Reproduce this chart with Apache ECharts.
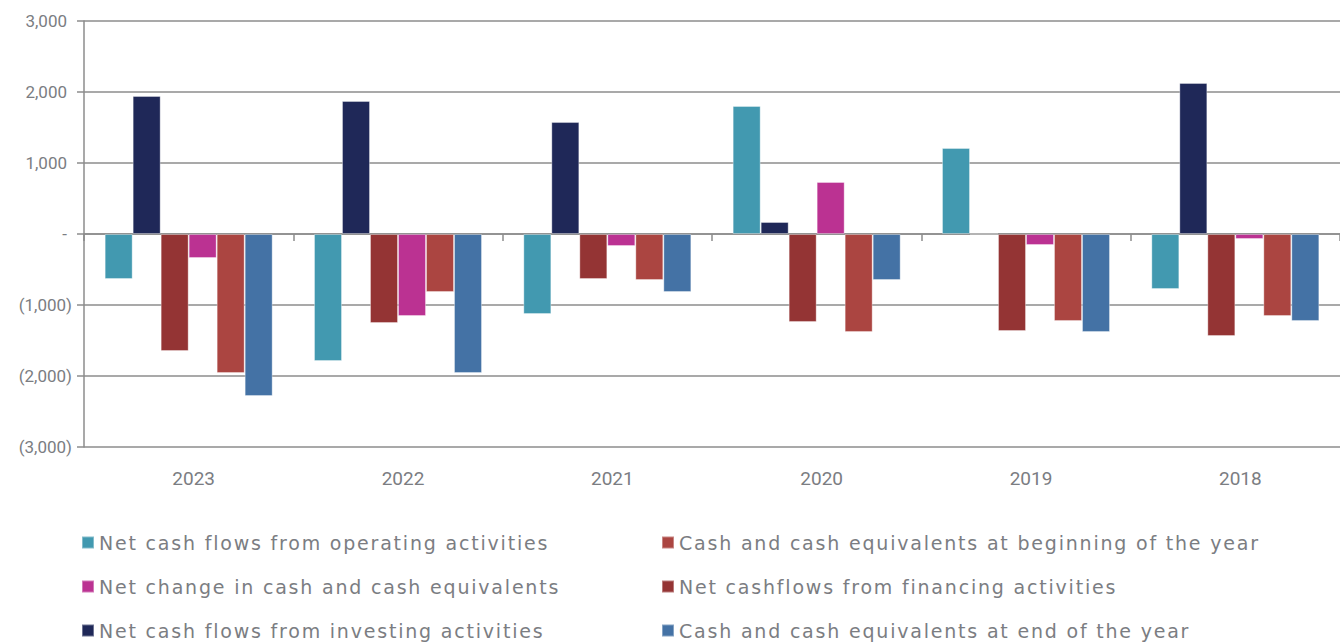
<!DOCTYPE html>
<html>
<head>
<meta charset="utf-8">
<script src="https://cdn.jsdelivr.net/npm/echarts@6/dist/echarts.min.js"></script>
<style>
  html, body { margin: 0; padding: 0; background: #fff; }
  #chart { width: 1340px; height: 644px; }
  /* the legend in the report is tracked out a bit */
  #chart text[style*="DejaVu"] { letter-spacing: 1.8px; }
</style>
</head>
<body>
<div id="chart"></div>
<script>
// years, left to right as in the report
const years = ["2023", "2022", "2021", "2020", "2019", "2018"];

// values (in thousands)
const operating = [-634, -1789, -1127, 1803, 1211, -775];
const investing = [1944, 1873, 1577, 169, 0, 2127];
const financing = [-1648, -1254, -634, -1239, -1366, -1437];
const netChange = [-338, -1155, -169, 732, -155, -70];
const beginning = [-1958, -817, -648, -1380, -1225, -1155];
const ending = [-2282, -1958, -817, -648, -1380, -1225];

const yTicks = [-3000, -2000, -1000, 0, 1000, 2000, 3000];

const names = {
  op: "Net cash flows from operating activities",
  inv: "Net cash flows from investing activities",
  fin: "Net cashflows from financing activities",
  chg: "Net change in cash and cash equivalents",
  beg: "Cash and cash equivalents at beginning of the year",
  end: "Cash and cash equivalents at end of the year"
};

const colors = {
  op: "#4299b0",
  inv: "#1f2858",
  fin: "#943434",
  chg: "#bb3292",
  beg: "#ab4541",
  end: "#4472a5"
};

const gray = "#8c8c8c";
const textGray = "#7b7d82";

function bar(key, data) {
  return {
    name: names[key],
    type: "bar",
    data: data,
    barWidth: 28,
    barGap: "0%",
    itemStyle: {
      color: colors[key],
      borderColor: "rgba(255,255,255,0.35)",
      borderWidth: 1
    }
  };
}

// accounting style: negatives in brackets, zero as a dash
function fmt(v) {
  if (v === 0) return "{pos|-}";
  let s = Math.abs(v).toLocaleString("en-US");
  return v < 0 ? "(" + s + ")" : "{pos|" + s + "}";
}

// one legend box per entry, two columns of three
function legendItem(key, left, top) {
  return {
    left: left,
    top: top,
    itemWidth: 12,
    itemHeight: 12,
    icon: "rect",
    textStyle: {
      fontFamily: "DejaVu Sans",
      fontSize: 19,
      color: textGray
    },
    data: [names[key]]
  };
}

let myChart = echarts.init(document.getElementById("chart"), null, { renderer: "svg" });

let option = {
  animation: false,
  backgroundColor: "#fff",
  grid: { left: 84, right: -8, top: 21, bottom: 197 },
  legend: [
    legendItem("op", 76, 528),
    legendItem("chg", 76, 572),
    legendItem("inv", 76, 616),
    legendItem("beg", 656, 528),
    legendItem("fin", 656, 572),
    legendItem("end", 656, 616)
  ],
  xAxis: [
    {
      type: "category",
      data: years,
      position: "bottom",
      axisLine: { show: false, onZero: false },
      axisTick: { show: false },
      axisLabel: {
        margin: 22,
        padding: [0, 0, 0, 10],
        fontFamily: "Roboto",
        fontSize: 19,
        color: textGray
      }
    },
    {
      // zero line with the little boundary ticks
      type: "category",
      data: years,
      position: "top",
      axisLine: { show: true, onZero: true, lineStyle: { color: gray, width: 1.5 } },
      axisTick: { show: true, inside: true, length: 7, lineStyle: { color: gray, width: 1.5 } },
      axisLabel: { show: false }
    }
  ],
  yAxis: {
    type: "value",
    min: yTicks[0],
    max: yTicks[yTicks.length - 1],
    interval: 1000,
    axisLine: { show: true, lineStyle: { color: gray, width: 1.5 } },
    axisTick: { show: true, length: 7, lineStyle: { color: gray, width: 1.5 } },
    splitLine: { show: true, lineStyle: { color: gray, width: 1.5 } },
    axisLabel: {
      margin: 12,
      fontFamily: "Roboto",
      fontSize: 17,
      color: textGray,
      formatter: fmt,
      rich: {
        pos: {
          fontFamily: "Roboto",
          fontSize: 17,
          color: textGray,
          padding: [0, 5, 0, 0]
        }
      }
    }
  },
  series: [
    bar("op", operating),
    bar("inv", investing),
    bar("fin", financing),
    bar("chg", netChange),
    bar("beg", beginning),
    bar("end", ending)
  ]
};

myChart.setOption(option);
</script>
</body>
</html>
